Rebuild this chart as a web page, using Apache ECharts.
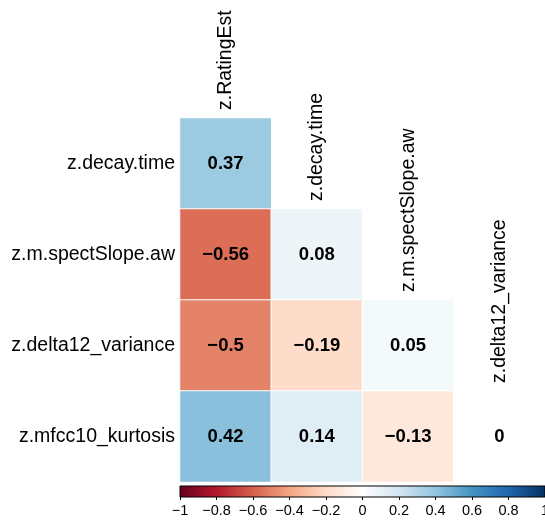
<!DOCTYPE html>
<html>
<head>
<meta charset="utf-8">
<script src="https://cdn.jsdelivr.net/npm/echarts@6/dist/echarts.min.js"></script>
<style>
  html, body { margin: 0; padding: 0; background: #fff; }
  #chart { width: 545px; height: 523px; }
</style>
</head>
<body>
<div id="chart"></div>
<script>
// correlation matrix, lower triangle (no diagonal)
var colNames = ["z.RatingEst", "z.decay.time", "z.m.spectSlope.aw", "z.delta12_variance"];
var rowNames = ["z.decay.time", "z.m.spectSlope.aw", "z.delta12_variance", "z.mfcc10_kurtosis"];
var row0 = [0.37];
var row1 = [-0.56, 0.08];
var row2 = [-0.5, -0.19, 0.05];
var row3 = [0.42, 0.14, -0.13, 0];
var rowValues = [row0, row1, row2, row3];
var barTicks = [-1, -0.8, -0.6, -0.4, -0.2, 0, 0.2, 0.4, 0.6, 0.8, 1];
var palette = ["#67001F", "#B2182B", "#D6604D", "#F4A582", "#FDDBC7", "#FFFFFF",
               "#D1E5F0", "#92C5DE", "#4393C3", "#2166AC", "#053061"];

var font = "'Liberation Sans', Arial, Helvetica, sans-serif";

function fmt(v) {
  return String(v).replace("-", "\u2212");
}

var cells = [];
rowValues.forEach(function (vals, r) {
  vals.forEach(function (v, c) {
    cells.push([c, r, v]);
  });
});

var colLabelData = colNames.map(function (name, i) {
  return [i, i];
});

var chart = echarts.init(document.getElementById("chart"));

var option = {
  backgroundColor: "#fff",
  animation: false,
  textStyle: { fontFamily: font },
  grid: [
    { left: 180, top: 118, width: 365, height: 364, outerBoundsMode: "none", containLabel: false },
    { left: 180, top: 486, width: 365, height: 11, outerBoundsMode: "none", containLabel: false }
  ],
  xAxis: [
    {
      type: "category", gridIndex: 0, data: colNames,
      axisLine: { show: false }, axisTick: { show: false },
      axisLabel: { show: false }, splitLine: { show: false }
    },
    {
      type: "value", gridIndex: 1, min: -1, max: 1,
      axisLine: { show: false },
      splitLine: { show: false },
      axisTick: {
        show: true, length: 3, customValues: barTicks,
        lineStyle: { color: "#000", width: 1 }
      },
      axisLabel: {
        show: true, customValues: barTicks, margin: 6,
        fontSize: 14.5, color: "#000", fontFamily: font,
        showMinLabel: true, showMaxLabel: true,
        formatter: function (v) { return fmt(v); }
      }
    }
  ],
  yAxis: [
    {
      type: "category", gridIndex: 0, data: rowNames, inverse: true,
      axisLine: { show: false }, axisTick: { show: false },
      splitLine: { show: false },
      axisLabel: { fontSize: 19.5, color: "#000", margin: 5, fontFamily: font }
    },
    {
      type: "value", gridIndex: 1, min: 0, max: 1, show: false
    }
  ],
  visualMap: {
    type: "continuous", show: false, min: -1, max: 1,
    seriesIndex: 0, dimension: 2,
    inRange: { color: palette }
  },
  series: [
    {
      type: "heatmap",
      xAxisIndex: 0, yAxisIndex: 0,
      data: cells,
      itemStyle: { borderColor: "#fff", borderWidth: 1 },
      label: {
        show: true, color: "#000", fontSize: 18.5, fontWeight: "bold",
        fontFamily: font,
        formatter: function (p) { return fmt(p.value[2]); }
      },
      emphasis: { disabled: true }
    },
    {
      // column labels sitting above the first cell of each column
      type: "custom",
      xAxisIndex: 0, yAxisIndex: 0,
      data: colLabelData,
      silent: true,
      renderItem: function (params, api) {
        var pt = api.coord([api.value(0), api.value(1)]);
        var size = api.size([1, 1]);
        return {
          type: "text",
          x: pt[0],
          y: pt[1] - size[1] / 2 - 8,
          rotation: Math.PI / 2,
          style: {
            text: colNames[params.dataIndex],
            fontSize: 19.5, fontFamily: font, fill: "#000",
            align: "left", verticalAlign: "middle"
          }
        };
      }
    },
    {
      // colour legend bar
      type: "custom",
      xAxisIndex: 1, yAxisIndex: 1,
      data: [[-1, 1]],
      silent: true,
      renderItem: function (params, api) {
        var a = api.coord([api.value(0), 0]);
        var b = api.coord([api.value(1), 1]);
        var stops = palette.map(function (c, i) {
          return { offset: i / (palette.length - 1), color: c };
        });
        return {
          type: "rect",
          shape: { x: a[0], y: b[1], width: b[0] - a[0], height: a[1] - b[1] },
          style: {
            fill: new echarts.graphic.LinearGradient(0, 0, 1, 0, stops),
            stroke: "#000", lineWidth: 1
          }
        };
      }
    }
  ]
};

chart.setOption(option);
</script>
</body>
</html>
